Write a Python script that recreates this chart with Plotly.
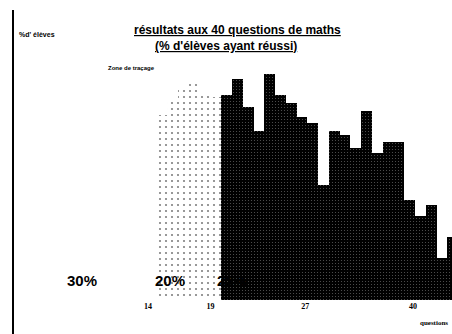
import plotly.graph_objects as go

# Share of pupils (%) who answered each question correctly
light_pos = [0, 1, 2, 3, 4, 5]
light_vals = [63.8, 69.0, 72.4, 75.9, 70.7, 70.0]

dark_pos = list(range(6, 28))
dark_vals = [70.7, 76.1, 66.4, 58.3, 77.9, 70.7, 68.0, 63.2, 61.1, 39.7, 58.3,
             56.9, 52.3, 65.3, 50.8, 54.6, 54.6, 34.5, 29.0, 32.8, 14.5, 21.8]

tick_pos = [-1.3, 4.5, 13.3, 23.3]
tick_text = ["<b>14</b>", "<b>19</b>", "<b>27</b>", "<b>40</b>"]

W, H = 452, 334
ML, MR, MT, MB = 13, 0, 10, 34
PW, PH = W - ML - MR, H - MT - MB


def px(x):
    return (x - ML) / PW


def py(y):
    return (H - MB - y) / PH


fig = go.Figure()
fig.add_trace(go.Bar(
    x=light_pos, y=light_vals, width=1.0,
    marker=dict(color="white", line=dict(width=0),
                pattern=dict(shape=".", fgcolor="black", bgcolor="white",
                             size=6, solidity=0.1)),
    showlegend=False,
))
fig.add_trace(go.Bar(
    x=dark_pos, y=dark_vals, width=1.0,
    marker=dict(color="black", line=dict(width=0),
                pattern=dict(shape=".", fgcolor="#bbbbbb", bgcolor="black",
                             size=3, solidity=0.1)),
    showlegend=False,
))

bold = "Liberation Sans"
ann = [
    dict(text="<b><u>résultats aux 40 questions de maths</u></b>", x=px(237), y=py(30),
         font=dict(size=12, family=bold)),
    dict(text="<b><u>(% d'élèves ayant réussi)</u></b>", x=px(226), y=py(46),
         font=dict(size=12, family=bold)),
    dict(text="<b>%d' élèves</b>", x=px(17), y=py(35), xanchor="left",
         font=dict(size=7, family=bold)),
    dict(text="<b>Zone de traçage</b>", x=px(106), y=py(68), xanchor="left",
         font=dict(size=6, family=bold)),
    dict(text="<b>30%</b>", x=px(82), y=py(280), font=dict(size=15, family=bold)),
    dict(text="<b>20%</b>", x=px(170), y=py(280), font=dict(size=15, family=bold)),
    dict(text="<b>22%</b>", x=px(215), y=py(280), xanchor="left",
         font=dict(size=15, family=bold)),
    dict(text="<b>questions</b>", x=px(450), y=py(323), xanchor="right",
         font=dict(size=7, family="Liberation Serif")),
]
for a in ann:
    a.update(xref="paper", yref="paper", showarrow=False, yanchor="middle")
    a.setdefault("xanchor", "center")
    a["font"]["color"] = "black"

fig.update_layout(
    width=W, height=H,
    margin=dict(l=ML, r=MR, t=MT, b=MB),
    paper_bgcolor="white", plot_bgcolor="white",
    bargap=0, barmode="overlay",
    annotations=ann,
    shapes=[dict(type="line", xref="paper", yref="paper", x0=0, x1=0,
                 y0=-MB / PH, y1=1, line=dict(color="black", width=2))],
    xaxis=dict(range=[-13.82, 26.92], tickvals=tick_pos, ticktext=tick_text,
               showline=False, showgrid=False, zeroline=False, ticks="",
               tickfont=dict(size=8, family="Liberation Serif", color="black")),
    yaxis=dict(range=[0, 100], showline=False, showgrid=False, zeroline=False,
               showticklabels=False, ticks=""),
)

fig.write_html("out.html")
